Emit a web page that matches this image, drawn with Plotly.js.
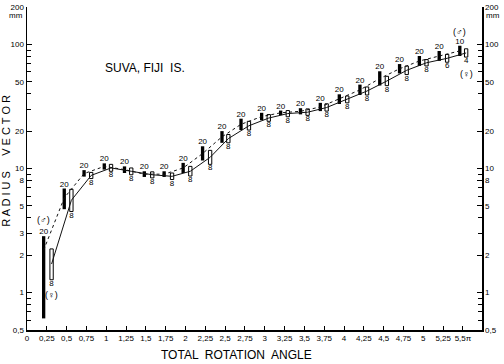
<!DOCTYPE html>
<html>
<head>
<meta charset="utf-8">
<script src="https://cdn.plot.ly/plotly-3.0.1.min.js"></script>
<style>html,body{margin:0;padding:0;background:#fff;}#chart{width:504px;height:364px;}</style>
</head>
<body>
<div id="chart"></div>
<script>
// Male (♂) – filled bars, dotted line
const maleX    = [0.21, 0.47, 0.72, 0.975, 1.23, 1.48, 1.73, 1.97, 2.215, 2.46, 2.70, 2.96, 3.20, 3.45, 3.70, 3.94, 4.20, 4.45, 4.70, 4.95, 5.20, 5.46];
const maleLow  = [0.62, 4.7, 8.6, 9.8, 9.2, 8.55, 8.55, 9.2, 11.6, 16.1, 20.4, 24.5, 26.9, 27.3, 29.0, 33.1, 39.1, 46.6, 58.3, 67.0, 73.6, 80.6];
const maleHigh = [2.85, 6.9, 9.7, 11.0, 10.4, 9.5, 9.5, 11.1, 15.1, 20.0, 25.2, 28.1, 29.3, 30.6, 33.8, 39.6, 47.4, 60.7, 69.4, 80.6, 88.4, 97.5];
const maleMean = [2.2, 5.8, 9.1, 10.4, 9.8, 9.0, 9.0, 10.1, 13.2, 18.0, 22.7, 26.2, 28.1, 28.9, 31.3, 36.2, 43.0, 53.0, 63.6, 73.5, 80.7, 88.6];
const maleN    = ["20","20","20","20","20","20","20","20","20","20","20","20","20","20","20","20","20","20","20","20","20","10"];

// Female (♀) – open bars, solid line
const femX    = [0.31, 0.56, 0.81, 1.06, 1.315, 1.58, 1.83, 2.06, 2.31, 2.54, 2.80, 3.05, 3.29, 3.54, 3.78, 4.04, 4.29, 4.54, 4.79, 5.04, 5.30, 5.54];
const femLow  = [1.27, 4.5, 8.3, 9.5, 8.9, 8.4, 8.15, 8.7, 10.8, 16.1, 20.4, 24.0, 26.1, 26.8, 29.0, 33.8, 39.1, 46.5, 57.1, 67.0, 71.8, 79.0];
const femHigh = [2.25, 6.8, 9.3, 10.8, 10.1, 9.4, 9.2, 10.4, 14.0, 18.8, 24.0, 27.2, 29.3, 30.2, 33.2, 38.4, 45.4, 55.3, 66.9, 75.4, 83.0, 92.1];
const femMean = [1.7, 5.55, 8.8, 10.1, 9.5, 8.9, 8.65, 9.5, 12.3, 17.4, 22.1, 25.5, 27.7, 28.4, 31.0, 36.0, 42.1, 50.7, 61.8, 71.1, 77.2, 85.3];
const femN    = ["8","8","8","8","8","8","8","8","8","8","8","8","8","8","8","8","8","8","8","8","6","4"];

// Axis ticks
const xTickVals = [0, 0.25, 0.5, 0.75, 1, 1.25, 1.5, 1.75, 2, 2.25, 2.5, 2.75, 3, 3.25, 3.5, 3.75, 4, 4.25, 4.5, 4.75, 5, 5.25, 5.5];
const xTickText = ["0","0,25","0,5","0,75","1","1,25","1,5","1,75","2","2,25","2,5","2,75","3","3,25","3,5","3,75","4","4,25","4,5","4,75","5","5,25","5,5\u03c0"];
const yLeftVals = [0.5, 1, 2, 3, 5, 8, 10, 20, 50, 100, 200];
const yLeftText = ["0,5","1","2","3","5","8","10","20","50","100","200"];
const yRightVals = [0.5, 1, 2, 5, 8, 10, 20, 50, 100, 200];
const yRightText = ["0,5","1","2","5","8","10","20","50","100","200"];
const yMinorVals = [0.6, 0.7, 0.8, 0.9, 3, 4, 6, 7, 9, 30, 40, 60, 70, 80, 90];

const FONT = "Liberation Sans, Arial, sans-serif";
const diff = (a, b) => a.map((v, i) => v - b[i]);

const traces = [
  { type: "scatter", mode: "lines", x: maleX, y: maleMean,
    line: { color: "#111", width: 1, dash: "dot" }, hoverinfo: "skip" },
  { type: "scatter", mode: "lines", x: femX, y: femMean,
    line: { color: "#111", width: 1 }, hoverinfo: "skip" },
  { type: "bar", x: maleX, base: maleLow, y: diff(maleHigh, maleLow), width: 0.042,
    marker: { color: "#000", line: { width: 0 } }, hoverinfo: "skip" },
  { type: "bar", x: femX, base: femLow, y: diff(femHigh, femLow), width: 0.042,
    marker: { color: "#fff", line: { color: "#000", width: 1 } }, hoverinfo: "skip" },
  { type: "scatter", mode: "text", x: maleX, y: maleHigh, text: maleN,
    textposition: "top center", textfont: { family: FONT, size: 8, color: "#000" }, hoverinfo: "skip" },
  { type: "scatter", mode: "text", x: femX, y: femLow, text: femN,
    textposition: "bottom center", textfont: { family: FONT, size: 8, color: "#000" }, hoverinfo: "skip" },
  // invisible trace to activate right axis
  { type: "scatter", mode: "markers", x: [1], y: [1], yaxis: "y2",
    marker: { opacity: 0 }, hoverinfo: "skip" }
];

const axisFont = { family: FONT, size: 8, color: "#000" };
const layout = {
  width: 504, height: 364,
  margin: { l: 27, r: 22, t: 7, b: 34, pad: 0 },
  paper_bgcolor: "#fff", plot_bgcolor: "#fff",
  showlegend: false, barmode: "overlay",
  font: { family: FONT, color: "#000" },
  xaxis: {
    range: [0, 5.74], showgrid: false, zeroline: false,
    showline: true, linecolor: "#000", linewidth: 1.5,
    ticks: "inside", ticklen: 4, tickwidth: 1, tickcolor: "#000",
    tickmode: "array", tickvals: xTickVals, ticktext: xTickText,
    tickfont: axisFont
  },
  yaxis: {
    type: "log", range: [Math.log10(0.5), Math.log10(200)],
    showgrid: false, zeroline: false,
    showline: true, linecolor: "#000", linewidth: 1.5,
    ticks: "inside", ticklen: 5, tickwidth: 1, tickcolor: "#000",
    tickmode: "array", tickvals: yLeftVals, ticktext: yLeftText,
    tickfont: axisFont,
    minor: { tickmode: "array", tickvals: yMinorVals, ticks: "inside", ticklen: 4, tickcolor: "#000", showgrid: false }
  },
  yaxis2: {
    type: "log", range: [Math.log10(0.5), Math.log10(200)],
    overlaying: "y", side: "right",
    showgrid: false, zeroline: false,
    showline: true, linecolor: "#000", linewidth: 1.5,
    ticks: "inside", ticklen: 5, tickwidth: 1, tickcolor: "#000",
    tickmode: "array", tickvals: yRightVals, ticktext: yRightText,
    tickfont: axisFont,
    minor: { tickmode: "array", tickvals: yMinorVals, ticks: "inside", ticklen: 4, tickcolor: "#000", showgrid: false }
  },
  annotations: [
    { text: "SUVA, FIJI  IS.", xref: "paper", yref: "paper", x: 0.167, y: 0.811,
      xanchor: "left", yanchor: "middle", showarrow: false, font: { family: FONT, size: 12 } },
    { text: "R A D I U S     V E C T O R", xref: "paper", yref: "paper", x: -0.047, y: 0.523,
      xanchor: "center", yanchor: "middle", textangle: -90, showarrow: false, font: { family: FONT, size: 11 } },
    { text: "TOTAL  ROTATION  ANGLE", xref: "paper", yref: "paper", x: 0.4615, y: -0.077,
      xanchor: "center", yanchor: "middle", showarrow: false, font: { family: FONT, size: 12 } },
    { text: "mm", xref: "paper", yref: "paper", x: -0.005, y: 0.975,
      xanchor: "right", yanchor: "middle", showarrow: false, font: { family: FONT, size: 8 } },
    { text: "mm", xref: "paper", yref: "paper", x: 1.005, y: 0.975,
      xanchor: "left", yanchor: "middle", showarrow: false, font: { family: FONT, size: 8 } },
    { text: "(\u2642)", xref: "x", yref: "y", x: 0.21, y: 0.589,
      showarrow: false, font: { family: FONT, size: 9 } },
    { text: "(\u2640)", xref: "x", yref: "y", x: 0.31, y: -0.016,
      showarrow: false, font: { family: FONT, size: 9 } },
    { text: "(\u2642)", xref: "x", yref: "y", x: 5.46, y: 2.097,
      showarrow: false, font: { family: FONT, size: 9 } },
    { text: "(\u2640)", xref: "x", yref: "y", x: 5.54, y: 1.76,
      showarrow: false, font: { family: FONT, size: 9 } }
  ]
};

Plotly.newPlot("chart", traces, layout, { displayModeBar: false, staticPlot: true });
</script>
</body>
</html>
